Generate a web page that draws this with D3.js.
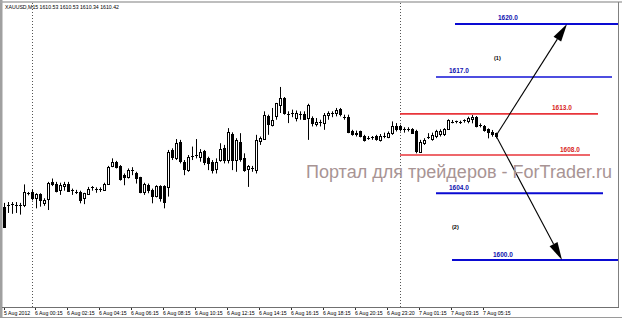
<!DOCTYPE html>
<html><head><meta charset="utf-8">
<script src="https://cdn.jsdelivr.net/npm/d3@7/dist/d3.min.js"></script>
<style>body{margin:0;background:#fff}svg{display:block}</style>
</head><body>
<script>
// ---- data ----
const symbolTitle = "XAUUSD,M15";
const lastQuote = ["1610.53", "1610.53", "1610.34", "1610.42"];
const opens = [1601.8,1602.0,1602.1,1602.2,1602.0,1602.05,1603.4,1603.6,1602.85,1603.3,1602.3,1602.85,1604.8,1604.6,1603.75,1604.4,1604.6,1603.75,1603.65,1603.6,1602.85,1603.45,1604.1,1604.0,1603.95,1603.9,1604.6,1606.7,1607.2,1606.7,1605.6,1605.35,1606.2,1605.8,1605.35,1603.6,1604.4,1603.85,1603.1,1604.3,1604.3,1604.2,1608.6,1607.6,1609.5,1607.2,1606.2,1607.8,1607.9,1607.8,1608.5,1607.6,1607.2,1606.4,1607.4,1608.8,1607.4,1610.5,1607.4,1609.6,1607.6,1606.3,1606.4,1606.2,1609.6,1610.0,1612.6,1611.6,1612.6,1613.95,1614.75,1613.0,1613.0,1612.4,1612.9,1612.9,1612.4,1612.4,1611.7,1611.85,1611.8,1612.8,1613.0,1613.0,1613.45,1612.56,1612.56,1610.9,1610.5,1610.8,1610.26,1610.1,1610.1,1610.26,1609.8,1610.26,1610.2,1610.6,1611.4,1611.4,1611.06,1611.04,1611.06,1610.8,1608.4,1609.4,1610.18,1609.9,1610.2,1610.4,1610.5,1611.06,1611.97,1611.97,1611.85,1612.09,1611.97,1612.37,1612.56,1611.57,1611.45,1611.06,1610.78,1610.58];
const highs = [1602.3,1602.4,1602.4,1602.4,1602.3,1604.5,1603.6,1603.9,1603.45,1603.45,1602.85,1604.8,1605.2,1604.8,1604.7,1604.8,1604.8,1604.0,1603.85,1603.75,1603.5,1604.2,1604.3,1604.15,1604.15,1604.7,1606.7,1607.6,1607.3,1606.8,1605.8,1606.4,1606.55,1606.0,1605.4,1604.7,1604.6,1604.0,1604.4,1604.4,1604.4,1608.6,1608.8,1609.9,1609.8,1607.4,1608.0,1609.0,1609.9,1608.7,1608.6,1607.8,1607.4,1607.6,1609.4,1609.2,1611.2,1610.7,1610.0,1610.6,1608.2,1606.8,1606.7,1610.4,1610.2,1613.2,1612.8,1613.6,1614.2,1616.1,1614.9,1613.2,1613.4,1613.3,1613.2,1613.2,1614.1,1612.6,1612.4,1612.2,1613.0,1613.2,1613.2,1613.6,1613.6,1612.8,1612.8,1611.0,1610.9,1610.9,1610.4,1610.26,1610.26,1610.4,1610.5,1610.66,1610.8,1612.0,1611.8,1611.6,1611.3,1611.3,1611.2,1611.0,1609.8,1610.0,1610.6,1610.66,1611.0,1611.06,1611.2,1612.25,1612.17,1612.09,1612.09,1612.25,1612.56,1612.76,1612.64,1611.77,1611.57,1611.17,1610.98,1610.66];
const lows = [1599.4,1601.1,1601.0,1601.1,1600.9,1601.8,1603.2,1602.6,1601.65,1601.85,1601.95,1601.45,1604.3,1603.55,1603.25,1603.75,1603.6,1603.25,1603.35,1602.25,1602.15,1603.25,1603.75,1603.5,1603.6,1603.75,1604.55,1606.55,1606.4,1604.95,1604.4,1605.2,1605.6,1604.6,1603.45,1603.25,1603.45,1602.25,1602.95,1602.45,1601.65,1603.05,1607.4,1607.4,1607.0,1605.6,1606.0,1607.4,1607.6,1607.2,1606.8,1606.2,1605.8,1605.8,1607.2,1607.0,1607.0,1606.2,1606.0,1607.2,1606.0,1604.2,1606.0,1605.8,1609.2,1609.8,1610.4,1611.4,1612.2,1613.0,1612.8,1611.8,1612.5,1612.0,1612.2,1612.2,1609.8,1611.4,1611.4,1611.4,1611.0,1612.2,1612.5,1612.6,1612.6,1612.2,1610.6,1610.3,1610.2,1610.1,1609.6,1609.8,1609.8,1609.7,1609.6,1610.0,1610.0,1610.4,1610.8,1610.8,1610.66,1610.8,1610.5,1608.2,1608.3,1609.2,1609.9,1609.7,1610.0,1610.2,1610.26,1611.0,1611.77,1611.77,1611.69,1611.85,1611.77,1611.77,1611.29,1611.29,1610.78,1609.98,1610.18,1609.98];
const closes = [1599.4,1602.1,1602.2,1602.1,1602.1,1603.6,1603.5,1602.85,1603.3,1602.6,1602.65,1604.7,1604.55,1603.75,1604.4,1604.6,1603.75,1603.8,1603.6,1602.65,1603.45,1604.0,1604.15,1603.95,1603.95,1604.6,1606.6,1607.2,1606.6,1605.2,1605.35,1606.2,1606.25,1605.2,1603.6,1604.55,1603.75,1603.1,1604.3,1602.85,1602.45,1608.4,1607.8,1609.4,1607.2,1606.4,1607.8,1607.9,1607.95,1608.4,1607.2,1607.0,1606.3,1607.2,1608.7,1607.4,1610.7,1607.4,1609.8,1607.6,1606.2,1606.7,1606.45,1609.8,1610.0,1612.8,1611.6,1612.2,1614.15,1614.75,1613.0,1612.9,1613.05,1613.0,1612.88,1612.25,1613.9,1611.8,1611.9,1611.87,1612.8,1613.0,1613.02,1613.4,1612.8,1612.54,1610.8,1610.5,1610.66,1610.26,1609.8,1610.08,1610.12,1609.87,1610.26,1610.28,1610.66,1611.4,1611.0,1611.06,1611.04,1611.08,1610.6,1608.4,1609.6,1609.8,1610.2,1610.4,1610.8,1610.8,1611.06,1612.17,1611.95,1611.99,1611.87,1612.11,1612.37,1612.56,1611.45,1611.55,1610.98,1610.66,1610.5,1610.26];
const tickBars = [0,7,15,23,31,39,47,55,63,71,79,87,95,103,111,119];
const tickLabels = ["5 Aug 2012","6 Aug 00:15","6 Aug 02:15","6 Aug 04:15","6 Aug 06:15","6 Aug 08:15","6 Aug 10:15","6 Aug 12:15","6 Aug 14:15","6 Aug 16:15","6 Aug 18:15","6 Aug 20:15","6 Aug 23:20","7 Aug 01:15","7 Aug 03:15","7 Aug 05:15"];
const separatorBars = [7, 99];
// horizontal level objects: text, drawn price, bar range, label bar
const levelTexts = ["1620.0","1617.0","1613.0","1608.0","1604.0","1600.0"];
const levelPrices = [1623.6,1617.3,1612.9,1608.0,1603.45,1595.5];
const levelFrom = [112.75,108,99,99,108,112];
const levelTo = [153.75,152,148.5,146.5,149.75,153.75];
const levelLabelBar = [123.5,111.25,137,139,111.25,122.25];
const levelKinds = ["target","target","range","range","target","target"];
const scenarioTexts = ["(1)","(2)"];
const scenarioBars = [122.5,112];
const scenarioPrices = [1619.6,1599.4];
const arrowStart = {bar:123, price:1610.3};
const arrowEndBars = [140.75,139.5];
const arrowEndPrices = [1623.6,1595.5];
const watermark = "Портал для трейдеров - ForTrader.ru";

// ---- drawing ----
const W = 622, H = 321;
const PL = 3, PR = 619, PT = 3, PB = 307;
const svg = d3.select("body").append("svg").attr("width", W).attr("height", H)
  .style("font-family", "'Liberation Sans', Arial, sans-serif");
svg.append("rect").attr("width", W).attr("height", H).attr("fill", "#fff");

const x = d3.scaleLinear().domain([0, 153.75]).range([4, 619]);
const y = d3.scaleLinear().domain([1608, 1613]).range([155, 113]);

svg.append("defs").append("clipPath").attr("id","plot")
  .append("rect").attr("x", PL).attr("y", PT).attr("width", PR-PL).attr("height", PB-PT);

const plot = svg.append("g").attr("clip-path","url(#plot)");

// period separators
plot.selectAll("line.sep").data(separatorBars).join("line")
  .attr("x1", d => Math.round(x(d)) + 0.5).attr("x2", d => Math.round(x(d)) + 0.5)
  .attr("y1", PT).attr("y2", PB)
  .attr("stroke", "#555").attr("stroke-width", 1).attr("stroke-dasharray", "1,2");

// watermark
svg.append("text").attr("x", 306).attr("y", 177.5)
  .attr("font-size", 17.5).attr("fill", "#a89494")
  .attr("textLength", 306).attr("lengthAdjust","spacingAndGlyphs")
  .text(watermark);

// candles
const idx = d3.range(opens.length);
const cg = plot.append("g");
idx.forEach(i => {
  const xi = Math.round(x(i));
  cg.append("line").attr("x1", xi + 0.5).attr("x2", xi + 0.5)
    .attr("y1", y(highs[i])).attr("y2", y(lows[i])).attr("stroke", "#000").attr("stroke-width", 1);
  const yo = y(opens[i]), yc = y(closes[i]);
  const top = Math.min(yo, yc), h = Math.abs(yo - yc);
  if (h < 1.2) {
    cg.append("line").attr("x1", xi - 1).attr("x2", xi + 2)
      .attr("y1", Math.round(yc) + 0.5).attr("y2", Math.round(yc) + 0.5)
      .attr("stroke", "#000").attr("stroke-width", 1);
  } else if (closes[i] >= opens[i]) {
    cg.append("rect").attr("x", xi - 0.5).attr("y", Math.round(top) + 0.5)
      .attr("width", 2).attr("height", Math.max(1, Math.round(h)))
      .attr("fill", "#fff").attr("stroke", "#000").attr("stroke-width", 1);
  } else {
    cg.append("rect").attr("x", xi - 1).attr("y", Math.round(top))
      .attr("width", 3).attr("height", Math.max(1, Math.round(h) + 1)).attr("fill", "#000");
  }
});

// levels
const levelColor = k => k === "range" ? "#e8353a" : "#0a0ad2";
levelTexts.forEach((t, i) => {
  const yy = y(levelPrices[i]);
  const col = levelColor(levelKinds[i]);
  plot.append("line").attr("x1", x(levelFrom[i])).attr("x2", x(levelTo[i]))
    .attr("y1", yy).attr("y2", yy).attr("stroke", i === 1 ? "#4d4de0" : col)
    .attr("stroke-width", levelKinds[i] === "range" ? 1.6 : 2);
  svg.append("text").attr("x", x(levelLabelBar[i])).attr("y", yy - 3.5)
    .attr("font-size", 6.5).attr("font-weight", "bold")
    .attr("fill", levelKinds[i] === "range" ? "#d81e1e" : "#1010b0").text(t);
});

// scenario labels
scenarioTexts.forEach((t, i) => {
  svg.append("text").attr("x", x(scenarioBars[i])).attr("y", y(scenarioPrices[i]) + 2)
    .attr("font-size", 5.5).attr("font-weight", "bold").attr("fill", "#000").text(t);
});

// arrows
const sx = x(arrowStart.bar), sy = y(arrowStart.price);
arrowEndBars.forEach((b, i) => {
  const ex = x(b), ey = y(arrowEndPrices[i]);
  const dx = ex - sx, dy = ey - sy, L = Math.hypot(dx, dy);
  const ux = dx / L, uy = dy / L, hl = 18, hw = 4.5;
  const bx = ex - ux * hl, by = ey - uy * hl;
  plot.append("line").attr("x1", sx).attr("y1", sy).attr("x2", bx).attr("y2", by)
    .attr("stroke", "#000").attr("stroke-width", 1.1);
  plot.append("path").attr("d",
    `M${ex},${ey}L${bx - uy * hw},${by + ux * hw}L${bx + uy * hw},${by - ux * hw}Z`)
    .attr("fill", "#000");
});

// header
svg.append("text").attr("x", 5).attr("y", 8.5).attr("font-size", 5.2).attr("fill", "#000")
  .text(symbolTitle + "  " + lastQuote.join(" "));

// frame
svg.append("rect").attr("x", 0).attr("y", 0).attr("width", 2.5).attr("height", 318).attr("fill", "#a0a0a0");
svg.append("line").attr("x1", 0).attr("x2", W).attr("y1", 2).attr("y2", 2).attr("stroke", "#a8a8a8").attr("stroke-width", 1.5);
svg.append("line").attr("x1", PR - 0.5).attr("x2", PR - 0.5).attr("y1", 2).attr("y2", PB + 1).attr("stroke", "#808080");
svg.append("line").attr("x1", 2).attr("x2", PR).attr("y1", PB + 0.5).attr("y2", PB + 0.5).attr("stroke", "#707070");
svg.append("line").attr("x1", 0).attr("x2", W).attr("y1", 317.5).attr("y2", 317.5).attr("stroke", "#9a9a9a");

// time axis
const ax = svg.append("g");
tickBars.forEach((b, i) => {
  const tx = i === 0 ? 4 : Math.round(x(b)) + 3;
  ax.append("line").attr("x1", tx + 0.5).attr("x2", tx + 0.5).attr("y1", PB + 1).attr("y2", PB + 3)
    .attr("stroke", "#333");
  ax.append("text").attr("x", tx).attr("y", 314.5).attr("font-size", 5.2).attr("fill", "#000")
    .text(tickLabels[i]);
});
</script>
</body></html>
